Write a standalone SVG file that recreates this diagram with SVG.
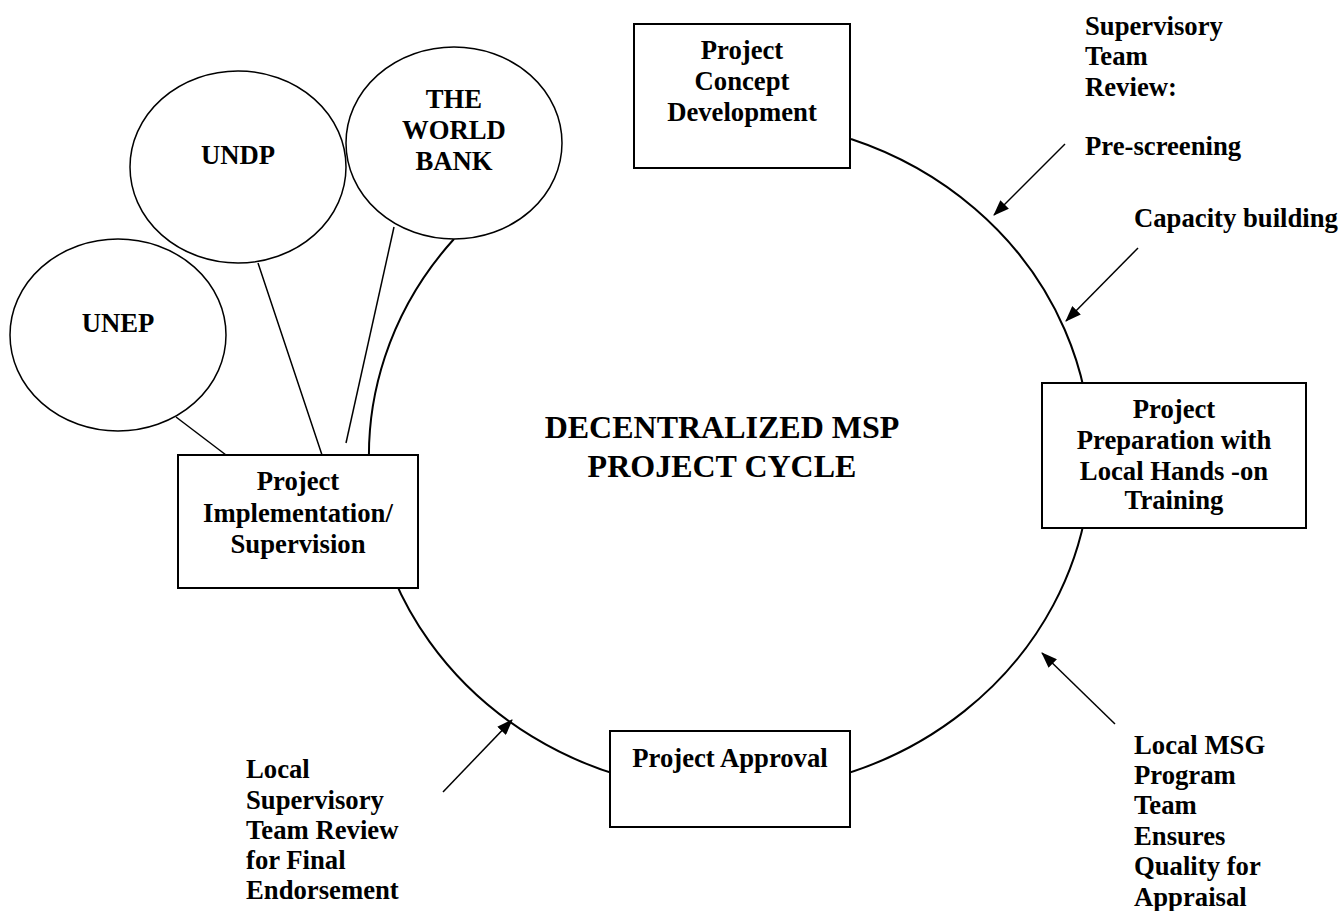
<svg xmlns="http://www.w3.org/2000/svg" width="1343" height="911" viewBox="0 0 1343 911">
<style>
text{font-family:"Liberation Serif","Times New Roman",serif;font-weight:bold;font-size:26.7px;fill:#000}
.c{text-anchor:middle}
.title{font-size:32px}
.box{fill:#fff;stroke:#000;stroke-width:2}
.oval{fill:#fff;stroke:#000;stroke-width:1.5}
.ln{fill:none;stroke:#000;stroke-width:1.5}
.cyc{fill:none;stroke:#000;stroke-width:2}
.arr{fill:none;stroke:#000;stroke-width:1.5;marker-end:url(#ah)}
</style>
<defs>
<marker id="ah" markerWidth="16" markerHeight="12" refX="15" refY="6" orient="auto" markerUnits="userSpaceOnUse">
<path d="M0,0 L16,6 L0,12 z" fill="#000"/>
</marker>
</defs>
<rect width="1343" height="911" fill="#fff"/>
<g id="connectors">
<path class="cyc" d="M851,139 A361,336 0 1 1 454,239"/>
<line class="ln" x1="176" y1="417" x2="226" y2="455"/>
<line class="ln" x1="258" y1="263" x2="322" y2="455"/>
<line class="ln" x1="394" y1="227" x2="346" y2="443"/>
<line class="arr" x1="1065" y1="144" x2="994" y2="215"/>
<line class="arr" x1="1138" y1="248" x2="1066" y2="321"/>
<line class="arr" x1="1115" y1="724" x2="1042" y2="653"/>
<line class="arr" x1="443" y1="792" x2="512" y2="720"/>
</g>
<g id="unep">
<ellipse class="oval" cx="118" cy="335" rx="108" ry="96"/>
<text class="c" x="118" y="332">UNEP</text>
</g>
<g id="undp">
<ellipse class="oval" cx="238" cy="167" rx="108" ry="96"/>
<text class="c" x="238" y="164">UNDP</text>
</g>
<g id="worldbank">
<ellipse class="oval" cx="454" cy="143" rx="108" ry="96"/>
<text class="c" x="454" y="108">THE</text>
<text class="c" x="454" y="139">WORLD</text>
<text class="c" x="454" y="170">BANK</text>
</g>
<g id="concept">
<rect class="box" x="634" y="24" width="216" height="144"/>
<text class="c" x="742" y="59">Project</text>
<text class="c" x="742" y="90">Concept</text>
<text class="c" x="742" y="121">Development</text>
</g>
<g id="preparation">
<rect class="box" x="1042" y="383" width="264" height="145"/>
<text class="c" x="1174" y="418">Project</text>
<text class="c" x="1174" y="449">Preparation with</text>
<text class="c" x="1174" y="480">Local Hands -on</text>
<text class="c" x="1174" y="509">Training</text>
</g>
<g id="approval">
<rect class="box" x="610" y="731" width="240" height="96"/>
<text class="c" x="730" y="767">Project Approval</text>
</g>
<g id="implementation">
<rect class="box" x="178" y="455" width="240" height="133"/>
<text class="c" x="298" y="490">Project</text>
<text class="c" x="298" y="522">Implementation/</text>
<text class="c" x="298" y="553">Supervision</text>
</g>
<g id="title">
<text class="c title" x="722" y="438">DECENTRALIZED MSP</text>
<text class="c title" x="722" y="477">PROJECT CYCLE</text>
</g>
<g id="supervisory-label">
<text x="1085" y="35">Supervisory</text>
<text x="1085" y="65">Team</text>
<text x="1085" y="96">Review:</text>
<text x="1085" y="155">Pre-screening</text>
</g>
<g id="capacity-label">
<text x="1134" y="227">Capacity building</text>
</g>
<g id="msg-label">
<text x="1134" y="754">Local MSG</text>
<text x="1134" y="784">Program</text>
<text x="1134" y="814">Team</text>
<text x="1134" y="845">Ensures</text>
<text x="1134" y="875">Quality for</text>
<text x="1134" y="906">Appraisal</text>
</g>
<g id="local-supervisory-label">
<text x="246" y="778">Local</text>
<text x="246" y="809">Supervisory</text>
<text x="246" y="839">Team Review</text>
<text x="246" y="869">for Final</text>
<text x="246" y="899">Endorsement</text>
</g>
</svg>
